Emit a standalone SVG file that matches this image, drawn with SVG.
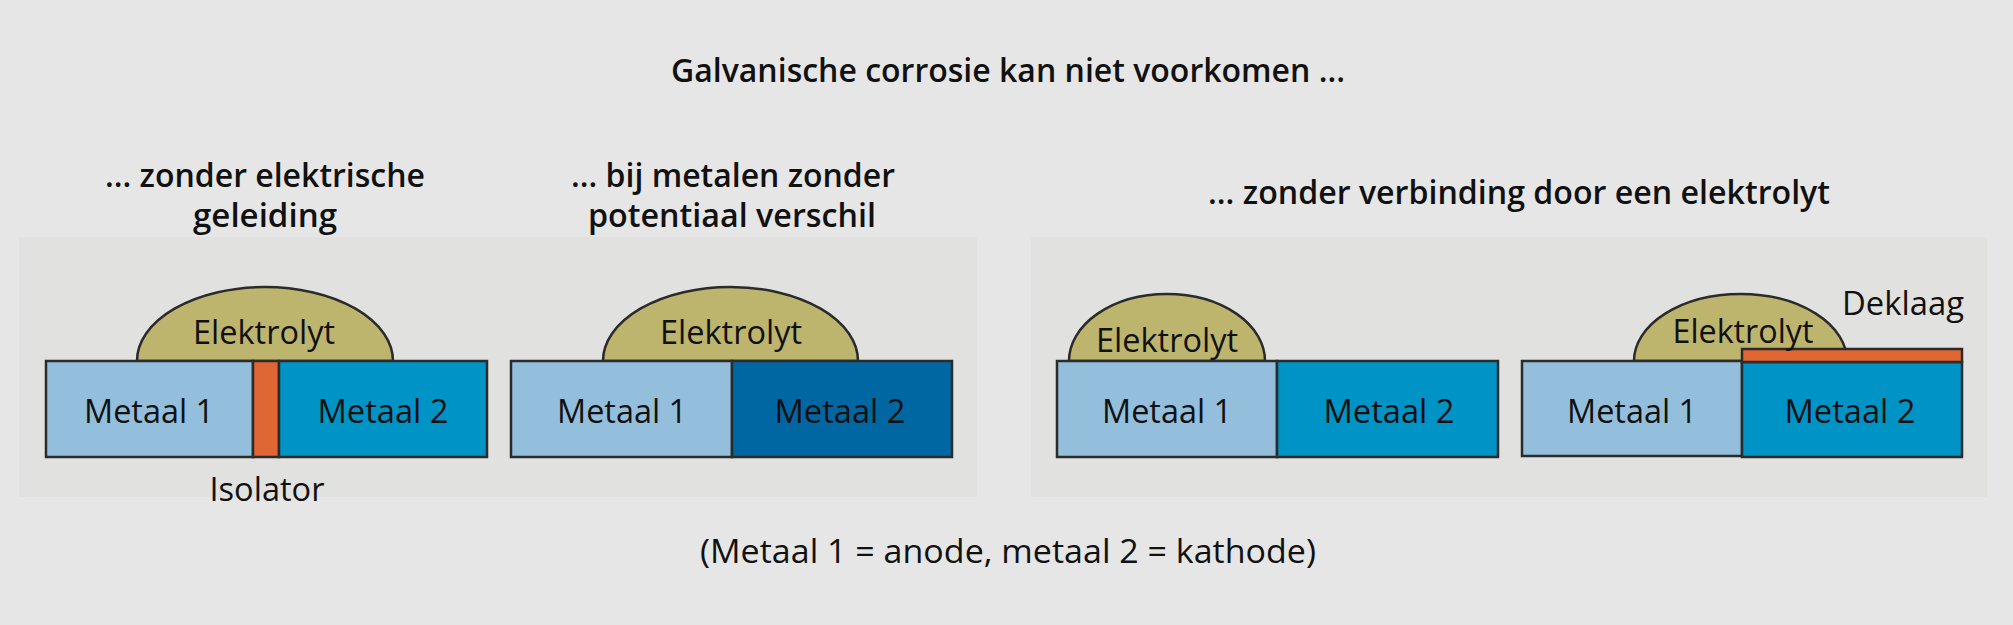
<svg xmlns="http://www.w3.org/2000/svg" width="2013" height="625" viewBox="0 0 2013 625">
<style>
.t{font-family:"Open Sans","Noto Sans","Liberation Sans",sans-serif;fill:#111;text-anchor:middle}
.h{font-size:32px;font-weight:600}
.l{font-size:32px;font-weight:400}
.ln{stroke:#2b2b2b;stroke-width:2.5}
.m1{fill:#93bfdd}
.m2{fill:#0093c6}
.m2d{fill:#0067a3}
.or{fill:#e06633}
.dome{fill:#bdb46e}
.panel{fill:#e1e1df}
</style>
<rect width="2013" height="625" fill="#e6e6e6"/>
<rect class="panel" x="19" y="237" width="958" height="260"/>
<rect class="panel" x="1031" y="237" width="956" height="260"/>

<g id="titles">
<text class="t h" x="1008" y="82" textLength="674" lengthAdjust="spacingAndGlyphs">Galvanische corrosie kan niet voorkomen ...</text>
<text class="t h" x="265" y="187" textLength="320" lengthAdjust="spacingAndGlyphs">... zonder elektrische</text>
<text class="t h" x="265" y="227" textLength="144" lengthAdjust="spacingAndGlyphs">geleiding</text>
<text class="t h" x="733" y="187" textLength="324" lengthAdjust="spacingAndGlyphs">... bij metalen zonder</text>
<text class="t h" x="732" y="227" textLength="288" lengthAdjust="spacingAndGlyphs">potentiaal verschil</text>
<text class="t h" x="1519" y="204" textLength="622" lengthAdjust="spacingAndGlyphs">... zonder verbinding door een elektrolyt</text>
<text class="t l" x="1008" y="563" textLength="616" lengthAdjust="spacingAndGlyphs">(Metaal 1 = anode, metaal 2 = kathode)</text>
</g>

<g id="diagram1">
<path class="dome ln" d="M137,361 A128,74 0 0 1 393,361 Z"/>
<rect class="m1 ln" x="46" y="361" width="207" height="96"/>
<rect class="or ln" x="253" y="361" width="26" height="96"/>
<rect class="m2 ln" x="279" y="361" width="208" height="96"/>
<text class="t l" x="264" y="344" textLength="142" lengthAdjust="spacingAndGlyphs">Elektrolyt</text>
<text class="t l" x="149" y="423" textLength="130" lengthAdjust="spacingAndGlyphs">Metaal 1</text>
<text class="t l" x="383" y="423" textLength="131" lengthAdjust="spacingAndGlyphs">Metaal 2</text>
<text class="t l" x="267" y="501" textLength="115" lengthAdjust="spacingAndGlyphs">Isolator</text>
</g>

<g id="diagram2">
<path class="dome ln" d="M603,361 A127.5,74 0 0 1 858,361 Z"/>
<rect class="m1 ln" x="511" y="361" width="221" height="96"/>
<rect class="m2d ln" x="732" y="361" width="220" height="96"/>
<text class="t l" x="731" y="344" textLength="142" lengthAdjust="spacingAndGlyphs">Elektrolyt</text>
<text class="t l" x="622" y="423" textLength="130" lengthAdjust="spacingAndGlyphs">Metaal 1</text>
<text class="t l" x="840" y="423" textLength="131" lengthAdjust="spacingAndGlyphs">Metaal 2</text>
</g>

<g id="diagram3">
<path class="dome ln" d="M1069,361 A98,67 0 0 1 1265,361 Z"/>
<rect class="m1 ln" x="1057" y="361" width="220" height="96"/>
<rect class="m2 ln" x="1277" y="361" width="221" height="96"/>
<text class="t l" x="1167" y="352" textLength="142" lengthAdjust="spacingAndGlyphs">Elektrolyt</text>
<text class="t l" x="1167" y="423" textLength="130" lengthAdjust="spacingAndGlyphs">Metaal 1</text>
<text class="t l" x="1389" y="423" textLength="131" lengthAdjust="spacingAndGlyphs">Metaal 2</text>
</g>

<g id="diagram4">
<path class="dome ln" d="M1634,361 A106.5,67 0 0 1 1847,361 Z"/>
<rect class="m1 ln" x="1522" y="361" width="220" height="95"/>
<rect class="m2 ln" x="1742" y="362" width="220" height="95"/>
<rect class="or ln" x="1742" y="349" width="220" height="13"/>
<text class="t l" x="1743" y="343" textLength="141" lengthAdjust="spacingAndGlyphs">Elektrolyt</text>
<text class="t l" x="1632" y="423" textLength="130" lengthAdjust="spacingAndGlyphs">Metaal 1</text>
<text class="t l" x="1850" y="423" textLength="131" lengthAdjust="spacingAndGlyphs">Metaal 2</text>
<text class="t l" x="1903" y="315" textLength="122" lengthAdjust="spacingAndGlyphs">Deklaag</text>
</g>
</svg>
